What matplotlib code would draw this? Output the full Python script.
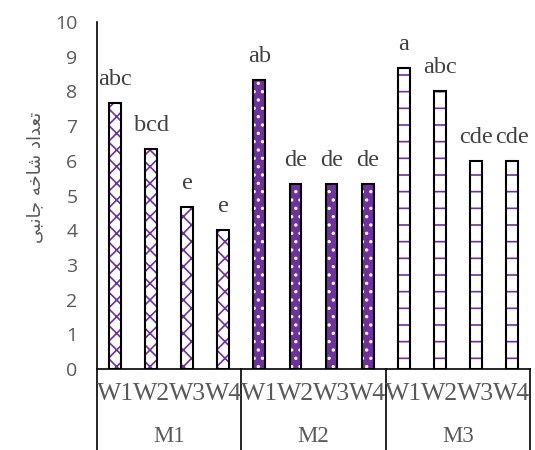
import matplotlib
matplotlib.use("Agg")
import matplotlib.pyplot as plt
import matplotlib.transforms as mtransforms

groups = ["M1", "M2", "M3"]
levels = ["W1", "W2", "W3", "W4"]
m1 = [7.67, 6.33, 4.67, 4.0]
m2 = [8.33, 5.33, 5.33, 5.33]
m3 = [8.67, 8.0, 6.0, 6.0]
letters_m1 = ["abc", "bcd", "e", "e"]
letters_m2 = ["ab", "de", "de", "de"]
letters_m3 = ["a", "abc", "cde", "cde"]
y_ticks = list(range(0, 11))

# Persian y label, shaped by hand (matplotlib does no Arabic shaping)
ylabel_logical = "\uFE97\uFECC\uFEAA\uFE8D\uFEA9 \uFEB7\uFE8E\uFEA7\uFEEA \uFE9F\uFE8E\uFEE7\uFE92\uFBFD"
ylabel_text = ylabel_logical[::-1]

purple = "#7030A0"
styles = [
    dict(face="white", hatch="xx", hcolor=purple),
    dict(face=purple, hatch="..", hcolor="white"),
    dict(face="white", hatch="-", hcolor=purple),
]

fig = plt.figure(figsize=(5.35, 4.5), dpi=100)
ax = fig.add_axes([97 / 535, 81 / 450, 433 / 535, 347 / 450])

series = [m1, m2, m3]
labels = [letters_m1, letters_m2, letters_m3]
width = 0.33
for g, (vals, labs, st) in enumerate(zip(series, labels, styles)):
    xs = [g * 4 + i for i in range(len(vals))]
    plt.rcParams["hatch.color"] = st["hcolor"]
    plt.rcParams["hatch.linewidth"] = 1.2
    ax.bar(xs, vals, width=width, color=st["face"], hatch=st["hatch"],
           edgecolor=st["hcolor"], linewidth=0)
    ax.bar(xs, vals, width=width, fill=False, edgecolor="black", linewidth=1.5)
    for x, v, t in zip(xs, vals, labs):
        ax.annotate(t, (x, v), xytext=(0, 17), textcoords="offset points",
                    ha="center", va="center", fontsize=17.5,
                    family="Liberation Serif", color="#404040")

ax.set_xlim(-0.5, 11.5)
ax.set_ylim(0, 10)
ax.set_yticks(y_ticks)
ax.set_yticklabels([str(t) for t in y_ticks], family="Open Sans",
                   fontsize=14, color="#595959")
ax.tick_params(axis="y", length=0, pad=14)
ax.set_xticks([])
for s in ["top", "right", "bottom", "left"]:
    ax.spines[s].set_visible(False)

trans = mtransforms.blended_transform_factory(ax.transData, ax.transAxes)
ybot = -81 / 347
ax.plot([-0.5, 11.5], [0, 0], transform=trans, color="black", lw=1.2, clip_on=False)
ax.plot([-0.5, -0.5], [ybot, 1.0], transform=trans, color="black", lw=1.2, clip_on=False)
for b in [3.5, 7.5, 11.5]:
    ax.plot([b, b], [ybot, 0], transform=trans, color="black", lw=1.2, clip_on=False)

for g, name in enumerate(groups):
    for i, w in enumerate(levels):
        ax.text(g * 4 + i, -25 / 347, w, transform=trans, ha="center", va="center",
                fontsize=18.5, family="Liberation Serif", color="#595959")
    ax.text(g * 4 + 1.5, -68 / 347, name, transform=trans, ha="center", va="center",
            fontsize=16.5, family="Liberation Serif", color="#595959")

fig.text(35 / 535, 1 - 177 / 450, ylabel_text, rotation=90, ha="center", va="center",
         fontsize=13, family="DejaVu Sans", color="#595959")

fig.savefig("out.png", dpi=100)
